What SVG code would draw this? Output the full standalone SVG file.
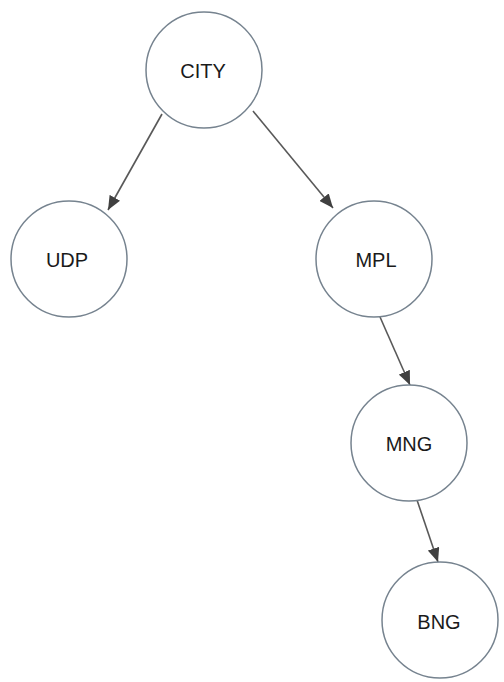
<svg xmlns="http://www.w3.org/2000/svg" width="504" height="682" viewBox="0 0 504 682">
  <style>
    .node circle { fill: #ffffff; stroke: #76838f; stroke-width: 1.5; }
    .node text { font-family: "Liberation Sans", Arial, sans-serif; font-size: 20px; fill: #1a1a1a; text-anchor: middle; dominant-baseline: central; }
    .edge { stroke: #595959; stroke-width: 1.6; fill: none; marker-end: url(#arrow); }
  </style>
  <defs>
    <marker id="arrow" viewBox="0 0 14 12" refX="14" refY="6" markerWidth="14" markerHeight="12" markerUnits="userSpaceOnUse" orient="auto">
      <path d="M0,0 L14,6 L0,12 Z" fill="#404040"/>
    </marker>
  </defs>
  <rect width="504" height="682" fill="#ffffff"/>

  <!-- connectors -->
  <g id="edges">
    <line class="edge" x1="162" y1="114" x2="108" y2="210"/>
    <line class="edge" x1="253" y1="111" x2="333" y2="208"/>
    <line class="edge" x1="380" y1="317" x2="410" y2="385"/>
    <line class="edge" x1="417" y1="500" x2="438" y2="562"/>
  </g>

  <!-- nodes -->
  <g id="node-city" class="node">
    <circle cx="204" cy="70" r="58"/>
    <text x="203" y="71">CITY</text>
  </g>
  <g id="node-udp" class="node">
    <circle cx="69" cy="259" r="58"/>
    <text x="67" y="260">UDP</text>
  </g>
  <g id="node-mpl" class="node">
    <circle cx="374" cy="259" r="58"/>
    <text x="376" y="260">MPL</text>
  </g>
  <g id="node-mng" class="node">
    <circle cx="409" cy="443" r="58"/>
    <text x="409" y="444">MNG</text>
  </g>
  <g id="node-bng" class="node">
    <circle cx="440" cy="620" r="58"/>
    <text x="439" y="622">BNG</text>
  </g>
</svg>
